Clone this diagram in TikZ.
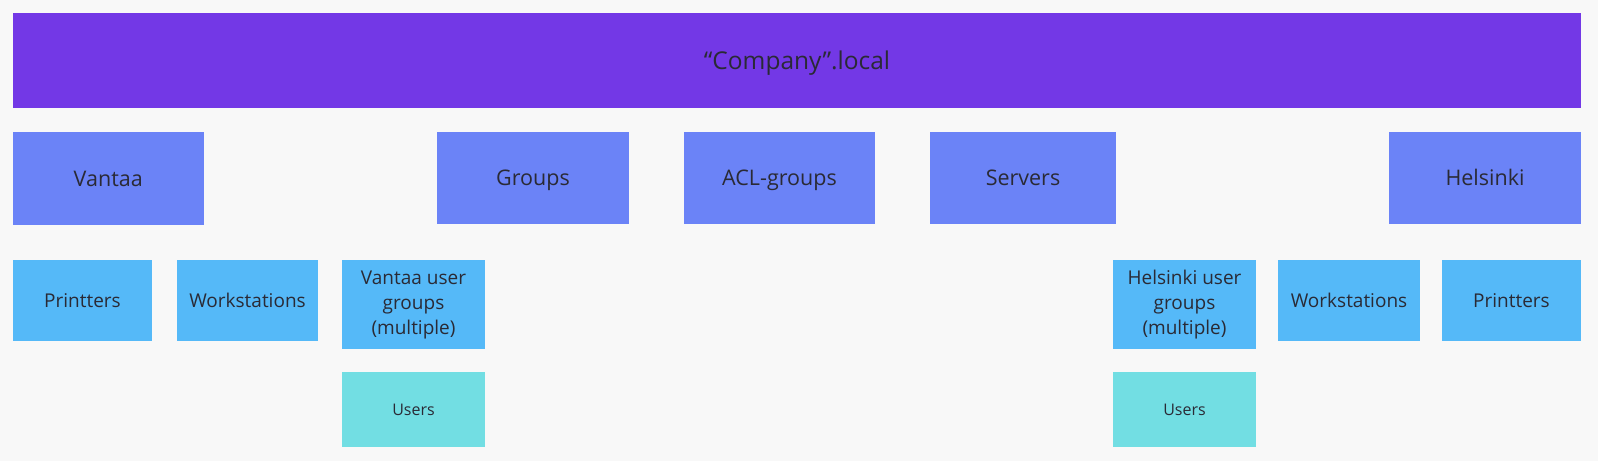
\documentclass[tikz,border=0pt]{standalone}
\usepackage{fontspec}
\setmainfont{Open Sans}
\definecolor{bg}{HTML}{F8F8F8}
\definecolor{topc}{HTML}{7338E6}
\definecolor{midc}{HTML}{6B83F7}
\definecolor{lowc}{HTML}{55B9F8}
\definecolor{userc}{HTML}{72DEE3}
\definecolor{txt}{HTML}{2A2A35}
\tikzset{
  box/.style={draw=none, inner sep=0pt, outer sep=0pt, text=txt, align=center},
  topbox/.style={box, text height=17.5pt, text depth=0pt, fill=topc, font=\fontsize{24.5}{30}\selectfont},
  midbox/.style={box, text height=15.4pt, text depth=0pt, fill=midc, font=\fontsize{21.5}{26}\selectfont},
  lowbox/.style={box, fill=lowc, font=\fontsize{19}{25}\selectfont},
  lowone/.style={lowbox, text height=13.6pt, text depth=0pt},
  userbox/.style={box, text height=11.4pt, text depth=0pt, fill=userc, font=\fontsize{16}{20}\selectfont},
}
\begin{document}
\begin{tikzpicture}[x=1pt,y=-1pt]
\fill[bg] (0,0) rectangle (1598,461);
\useasboundingbox (0,0) rectangle (1598,461);
% top
\node[topbox, minimum width=1568pt, minimum height=95pt] (top) at (797,60.5) {“Company”.local};
% row 1
\node[midbox, minimum width=191.5pt, minimum height=93pt] (vantaa) at (108.25,178.5) {Vantaa};
\node[midbox, minimum width=192pt, minimum height=92pt] (groups) at (533,178) {Groups};
\node[midbox, minimum width=191pt, minimum height=92pt] (acl) at (779.5,178) {ACL-groups};
\node[midbox, minimum width=186pt, minimum height=92pt] (servers) at (1023,178) {Servers};
\node[midbox, minimum width=192pt, minimum height=92pt] (helsinki) at (1485,178) {Helsinki};
% row 2
\node[lowone, minimum width=139pt, minimum height=81pt] (vprint) at (82.5,300.5) {Printters};
\node[lowone, minimum width=141pt, minimum height=81pt] (vwork) at (247.5,300.5) {Workstations};
\node[lowbox, minimum width=143pt, minimum height=89pt] (vgroups) at (413.5,304.5) {Vantaa user\\groups\\(multiple)};
\node[lowbox, minimum width=143pt, minimum height=89pt] (hgroups) at (1184.5,304.5) {Helsinki user\\groups\\(multiple)};
\node[lowone, minimum width=142pt, minimum height=81pt] (hwork) at (1349,300.5) {Workstations};
\node[lowone, minimum width=139pt, minimum height=81pt] (hprint) at (1511.5,300.5) {Printters};
% row 3
\node[userbox, minimum width=143pt, minimum height=75pt] (vusers) at (413.5,409.5) {Users};
\node[userbox, minimum width=143pt, minimum height=75pt] (husers) at (1184.5,409.5) {Users};
\end{tikzpicture}
\end{document}
